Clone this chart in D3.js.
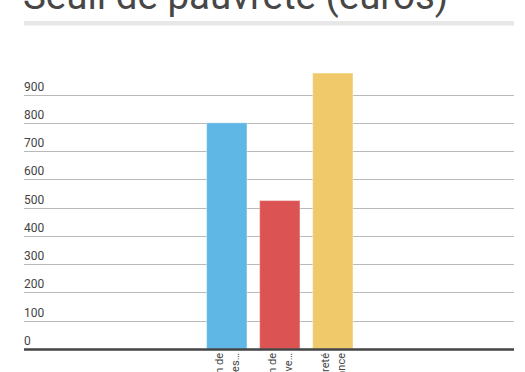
<!DOCTYPE html>
<html>
<head>
<meta charset="utf-8">
<script src="https://cdn.jsdelivr.net/npm/d3@7/dist/d3.min.js"></script>
<style>
  html, body { margin: 0; padding: 0; background: #fff; }
  svg { display: block; font-family: Roboto, "Noto Sans", sans-serif; }
</style>
</head>
<body>
<svg id="chart" width="525" height="372"></svg>
<script>
// chart data
const title = 'Seuil de pauvreté (euros)';
const categories = ['cat1', 'cat2', 'cat3'];
const categoryLabels = [
  ['Seuil à 60 % du revenu médian de', 'l\'ensemble des ménages…'],
  ['Seuil à 50 % du revenu médian de', 'la population active…'],
  ['Seuil de pauvreté', 'en France']
];
const values = [800, 525, 976];
const barColors = ['#5eb7e5', '#dc5353', '#f0ca6a'];
const yTicks = [0, 100, 200, 300, 400, 500, 600, 700, 800, 900];

const svg = d3.select('#chart');
const left = 24, right = 514;

// title (top of the glyphs is outside the frame)
svg.append('text')
  .attr('x', left - 1)
  .attr('y', 8.5)
  .attr('font-size', 38.5)
  .attr('fill', '#474747')
  .text(title);

// grey rule under the title
svg.append('rect')
  .attr('x', left)
  .attr('y', 21)
  .attr('width', right - left)
  .attr('height', 4.5)
  .attr('fill', '#e7e7e7');

const y = d3.scaleLinear()
  .domain([0, 1000])
  .range([349, 66.3]);

const x = d3.scaleBand()
  .domain(categories)
  .range([200.3, 359.3])
  .paddingInner(0.24)
  .paddingOuter(0.12);

// gridlines + labels
const grid = svg.append('g');
yTicks.filter(d => d > 0).forEach(t => {
  grid.append('line')
    .attr('x1', left).attr('x2', right)
    .attr('y1', Math.round(y(t)) + 0.5).attr('y2', Math.round(y(t)) + 0.5)
    .attr('stroke', '#b9b9b9')
    .attr('stroke-width', 1);
});
yTicks.forEach(t => {
  grid.append('text')
    .attr('x', left)
    .attr('y', y(t) - 4)
    .attr('font-size', 12)
    .attr('fill', '#444')
    .text(t);
});

// bars
svg.append('g')
  .selectAll('rect')
  .data(values)
  .join('rect')
  .attr('x', (d, i) => x(categories[i]))
  .attr('y', d => y(d))
  .attr('width', x.bandwidth())
  .attr('height', d => y(0) - y(d))
  .attr('fill', (d, i) => barColors[i])
  .attr('stroke', '#fff')
  .attr('stroke-opacity', 0.35)
  .attr('stroke-width', 1);

// baseline
svg.append('line')
  .attr('x1', left).attr('x2', right)
  .attr('y1', y(0) + 0.5).attr('y2', y(0) + 0.5)
  .attr('stroke', '#444')
  .attr('stroke-width', 2.5);

// rotated two-line category labels
const labels = svg.append('g');
categories.forEach((c, i) => {
  const cx = x(c) + x.bandwidth() / 2;
  const g = labels.append('g')
    .attr('transform', `translate(${cx},353) rotate(-90)`);
  categoryLabels[i].forEach((line, j) => {
    g.append('text')
      .attr('x', 0)
      .attr('y', j === 0 ? -4 : 12)
      .attr('text-anchor', 'end')
      .attr('font-size', 11)
      .attr('fill', '#444')
      .text(line);
  });
});
</script>
</body>
</html>
